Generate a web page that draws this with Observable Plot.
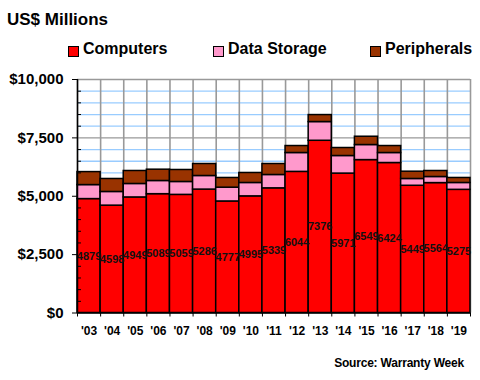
<!DOCTYPE html>
<html><head><meta charset="utf-8">
<script src="https://cdn.jsdelivr.net/npm/d3@7"></script>
<script src="https://cdn.jsdelivr.net/npm/@observablehq/plot@0.6"></script>
<style>
body{margin:0;background:#fff;font-family:Arial,"Liberation Sans",sans-serif}
#wrap{position:relative;width:480px;height:380px;overflow:hidden}
#wrap svg{position:absolute;left:0;top:0}
.t{position:absolute;font-weight:bold;line-height:1;white-space:nowrap;color:#000}
.sw{position:absolute;width:9px;height:9px;border:1px solid #000}
g[aria-label="barlabels"] text{letter-spacing:-0.9px}
</style></head><body><div id="wrap"></div><script>
const years = ["'03","'04","'05","'06","'07","'08","'09","'10","'11","'12","'13","'14","'15","'16","'17","'18","'19"];
const computers = [4879,4598,4949,5089,5059,5286,4777,4995,5339,6044,7376,5971,6549,6424,5449,5564,5275];
const storage = [600,586,577,565,553,582,591,574,572,808,802,753,645,428,291,261,294];
const peripherals = [556,556,556,484,513,513,415,428,470,299,299,342,355,299,312,257,214];
const seriesNames = ["Computers","Data Storage","Peripherals"];
const seriesColors = ["#ff0000","#ff99cc","#993300"];
const majorTicks = [0,2500,5000,7500,10000];

const wrap = document.getElementById("wrap");
const n = years.length;
const segments = [];
years.forEach((yr,i)=>{
  const vals=[computers[i],storage[i],peripherals[i]];
  let base=0;
  vals.forEach((v,k)=>{segments.push({i,y1:base,y2:base+v,s:seriesNames[k]});base+=v;});
});
const labels = years.map((yr,i)=>({i,v:computers[i]}));
const boundaries = d3.range(n+1);
const centers = d3.range(n).map(i=>i+0.5);
const allGrid = d3.range(500,10001,500);
const minorGrid = allGrid.filter(v=>v%2500!==0);
const majorGrid = allGrid.filter(v=>v%2500===0);

const chart = Plot.plot({
  width:480,height:380,
  marginLeft:77,marginRight:10,marginTop:79,marginBottom:67.5,
  style:{fontFamily:"Arial, 'Liberation Sans', sans-serif",fontWeight:"bold",color:"#000",background:"transparent"},
  x:{type:"linear",domain:[0,n],axis:null,label:null},
  y:{domain:[0,10000],axis:null,label:null},
  color:{domain:seriesNames,range:seriesColors},
  marks:[
    Plot.ruleY(minorGrid,{stroke:"#99ccff",strokeWidth:1.3}),
    Plot.ruleY(majorGrid,{stroke:"#999999",strokeWidth:1.3}),
    Plot.ruleX(boundaries,{stroke:"#999999",strokeWidth:1.6}),
    Plot.rect(segments,{x1:"i",x2:d=>d.i+1,y1:"y1",y2:"y2",fill:"s",stroke:"#000",strokeWidth:1.5}),
    Plot.text(labels,{x:d=>d.i+0.5,y:d=>d.v/2,text:d=>String(d.v),fontSize:11,fontWeight:"bold",fill:"#111",ariaLabel:"barlabels"}),
    Plot.ruleX([0],{stroke:"#000",strokeWidth:1.5}),
    Plot.ruleY([0],{stroke:"#000",strokeWidth:1.5}),
    Plot.axisY({ticks:minorGrid,tickSize:-4,tickFormat:()=>"",stroke:"#000",label:null}),
    Plot.axisY({ticks:majorTicks,tickSize:5,tickPadding:9,tickFormat:d=>"$"+d3.format(",")(d),fontSize:15,fontWeight:"bold",stroke:"#000",label:null}),
    Plot.axisX({ticks:boundaries,tickSize:4,tickFormat:()=>"",stroke:"#000",label:null}),
    Plot.axisX({ticks:centers,tickSize:0,tickPadding:13,tickFormat:d=>years[Math.floor(d)],fontSize:12,fontWeight:"bold",label:null})
  ]
});
wrap.appendChild(chart);

function addText(txt,left,top,size,extra){
  const d=document.createElement("div");d.className="t";d.textContent=txt;
  d.style.left=left+"px";d.style.top=top+"px";d.style.fontSize=size+"px";
  if(extra)Object.assign(d.style,extra);wrap.appendChild(d);return d;
}
addText("US$ Millions",7,10.6,17);
const legX=[68,213,370];
seriesNames.forEach((s,k)=>{
  const sw=document.createElement("div");sw.className="sw";
  sw.style.left=legX[k]+"px";sw.style.top="46px";sw.style.background=seriesColors[k];
  wrap.appendChild(sw);
  addText(s,legX[k]+15,41.4,16);
});
const src=addText("Source: Warranty Week",0,357,12,{letterSpacing:"-0.2px"});
src.style.left="";src.style.right="16px";
</script></body></html>
